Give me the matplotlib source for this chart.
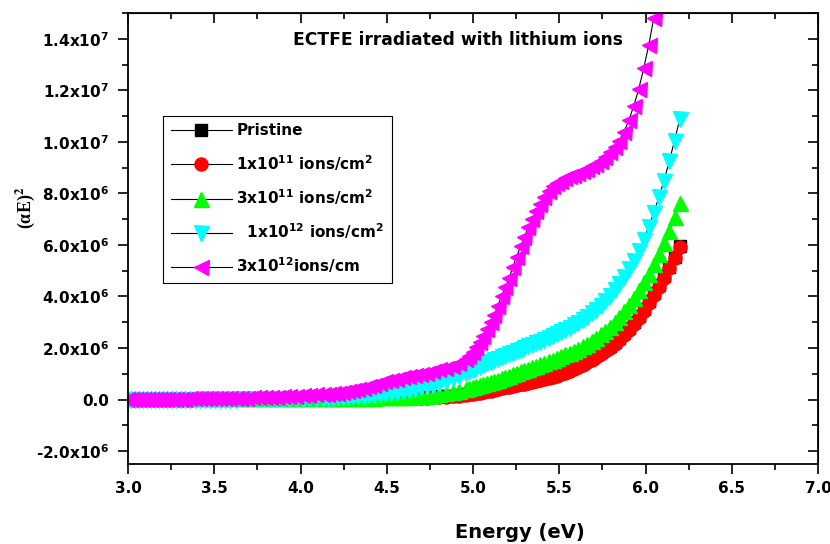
import numpy as np
import matplotlib
matplotlib.use("Agg")
import matplotlib.pyplot as plt
from matplotlib.ticker import MultipleLocator, FixedLocator, NullFormatter

plt.rcParams["font.family"] = ["DejaVu Sans"]
plt.rcParams["font.weight"] = "bold"
plt.rcParams["mathtext.fontset"] = "dejavusans"
plt.rcParams["mathtext.default"] = "bf"

# sampling grid of the spectra (nm), converted to photon energy (eV)
wavelength_nm = np.concatenate([np.arange(200, 251), np.arange(252, 301, 2), np.arange(303, 415, 3)])
energy_ev = 1239.84 / wavelength_nm

# (alpha E)^2 values, in units of 1e6, ordered from 200 nm upwards
pristine = [5.95, 5.55, 5.16, 4.79, 4.45, 4.12, 3.82, 3.53, 3.26, 3.01, 2.78, 2.58, 2.40, 2.24, 2.09,
            1.96, 1.84, 1.72, 1.62, 1.52, 1.42, 1.33, 1.25, 1.18, 1.11, 1.04, 0.98, 0.93, 0.88, 0.83,
            0.79, 0.75, 0.71, 0.68, 0.65, 0.62, 0.59, 0.56, 0.53, 0.50, 0.47, 0.44, 0.41, 0.38, 0.35,
            0.32, 0.29, 0.27, 0.25, 0.23, 0.21,
            0.18, 0.15, 0.13, 0.12, 0.11, 0.10, 0.09, 0.08, 0.08, 0.07, 0.07, 0.06, 0.06, 0.05, 0.05,
            0.05, 0.04, 0.04, 0.04, 0.04, 0.03, 0.03, 0.03, 0.03, 0.03,
            0.03, 0.03, 0.03, 0.03, 0.03, 0.03, 0.03, 0.03, 0.03, 0.03, 0.02, 0.02, 0.02, 0.02, 0.02,
            0.02, 0.02, 0.02, 0.02, 0.02, 0.02, 0.02, 0.02, 0.02, 0.01, 0.01, 0.01, 0.01, 0.01, 0.01,
            0.01, 0.01, 0.01, 0.01, 0.01, 0.01, 0.01, 0.01]
dose_1e11 = [5.93, 5.50, 5.10, 4.72, 4.38, 4.05, 3.74, 3.45, 3.18, 2.93, 2.70, 2.50, 2.32, 2.16, 2.02,
             1.89, 1.77, 1.66, 1.55, 1.45, 1.36, 1.27, 1.19, 1.12, 1.05, 0.99, 0.93, 0.88, 0.83, 0.79,
             0.75, 0.71, 0.68, 0.65, 0.62, 0.59, 0.56, 0.53, 0.50, 0.47, 0.44, 0.41, 0.38, 0.35, 0.32,
             0.29, 0.26, 0.24, 0.22, 0.20, 0.18,
             0.15, 0.13, 0.11, 0.10, 0.09, 0.08, 0.08, 0.07, 0.07, 0.06, 0.06, 0.05, 0.05, 0.05, 0.04,
             0.04, 0.04, 0.04, 0.03, 0.03, 0.03, 0.03, 0.03, 0.03, 0.03,
             0.03, 0.03, 0.03, 0.03, 0.03, 0.03, 0.03, 0.03, 0.03, 0.03, 0.02, 0.02, 0.02, 0.02, 0.02,
             0.02, 0.02, 0.02, 0.02, 0.02, 0.02, 0.02, 0.02, 0.02, 0.01, 0.01, 0.01, 0.01, 0.01, 0.01,
             0.01, 0.01, 0.01, 0.01, 0.01, 0.01, 0.01, 0.01]
dose_3e11 = [7.62, 7.08, 6.55, 6.08, 5.65, 5.25, 4.88, 4.55, 4.24, 3.95, 3.68, 3.43, 3.21, 3.01, 2.83,
             2.67, 2.53, 2.40, 2.28, 2.17, 2.07, 1.98, 1.90, 1.82, 1.75, 1.68, 1.61, 1.55, 1.49, 1.43,
             1.37, 1.31, 1.26, 1.20, 1.14, 1.09, 1.03, 0.98, 0.92, 0.87, 0.82, 0.77, 0.72, 0.68, 0.63,
             0.59, 0.55, 0.51, 0.47, 0.44, 0.40,
             0.34, 0.29, 0.24, 0.20, 0.17, 0.15, 0.13, 0.12, 0.11, 0.10, 0.10, 0.09, 0.09, 0.09, 0.08,
             0.08, 0.08, 0.08, 0.08, 0.08, 0.07, 0.07, 0.07, 0.07, 0.07,
             0.07, 0.07, 0.07, 0.07, 0.07, 0.07, 0.07, 0.07, 0.07, 0.07, 0.07, 0.07, 0.06, 0.06, 0.06,
             0.06, 0.06, 0.06, 0.06, 0.06, 0.06, 0.06, 0.06, 0.06, 0.06, 0.05, 0.05, 0.05, 0.05, 0.05,
             0.05, 0.05, 0.05, 0.05, 0.05, 0.05, 0.05, 0.05]
dose_1e12 = [10.9, 10.05, 9.25, 8.50, 7.85, 7.25, 6.70, 6.20, 5.75, 5.38, 5.05, 4.75, 4.48, 4.24, 4.02,
             3.82, 3.64, 3.48, 3.34, 3.21, 3.09, 2.98, 2.88, 2.79, 2.70, 2.61, 2.53, 2.45, 2.38, 2.31,
             2.25, 2.18, 2.12, 2.06, 2.00, 1.94, 1.88, 1.82, 1.76, 1.70, 1.64, 1.58, 1.52, 1.46, 1.40,
             1.34, 1.28, 1.22, 1.16, 1.10, 1.04,
             0.92, 0.82, 0.73, 0.65, 0.58, 0.52, 0.47, 0.42, 0.38, 0.34, 0.30, 0.27, 0.24, 0.21, 0.19,
             0.17, 0.15, 0.13, 0.12, 0.11, 0.10, 0.09, 0.08, 0.07, 0.06,
             0.05, 0.05, 0.04, 0.04, 0.03, 0.03, 0.02, 0.02, 0.02, 0.01, 0.01, 0.01, 0.01, 0.00, 0.00,
             0.00, 0.00, 0.00, -0.01, -0.01, -0.01, -0.01, -0.01, -0.01, -0.02, -0.02, -0.02, -0.02, -0.02,
             -0.02, -0.02, -0.03, -0.03, -0.03, -0.03, -0.03, -0.03, -0.03]
# 3x10^12 starts at 205 nm (higher points are off the top of the plot)
dose_3e12 = [14.8, 13.75, 12.85, 12.05, 11.4, 10.85, 10.4, 10.05, 9.80, 9.60,
             9.40, 9.25, 9.15, 9.05, 8.95, 8.85, 8.78, 8.72, 8.66, 8.58, 8.50, 8.42, 8.28, 8.10, 7.85,
             7.60, 7.30, 7.00, 6.70, 6.30, 5.95, 5.55, 5.16, 4.70, 4.35, 4.00, 3.65, 3.28, 3.00, 2.72,
             2.48, 2.25, 2.03, 1.85, 1.70, 1.58,
             1.42, 1.32, 1.24, 1.17, 1.10, 1.04, 0.99, 0.94, 0.90, 0.86, 0.81, 0.76, 0.71, 0.65, 0.58,
             0.52, 0.46, 0.41, 0.36, 0.33, 0.30, 0.27, 0.25, 0.23, 0.22,
             0.20, 0.18, 0.16, 0.14, 0.13, 0.12, 0.11, 0.10, 0.10, 0.09, 0.09, 0.08, 0.08, 0.07, 0.07,
             0.07, 0.06, 0.06, 0.06, 0.05, 0.05, 0.05, 0.05, 0.04, 0.04, 0.04, 0.04, 0.03, 0.03, 0.03,
             0.03, 0.03, 0.02, 0.02, 0.02, 0.02, 0.02, 0.02]

series_labels = ["Pristine",
                 "1x10$^{11}$ ions/cm$^{2}$",
                 "3x10$^{11}$ ions/cm$^{2}$",
                 "  1x10$^{12}$ ions/cm$^{2}$",
                 "3x10$^{12}$ions/cm"]
series_values = [pristine, dose_1e11, dose_3e11, dose_1e12, dose_3e12]
series_start = [0, 0, 0, 0, 5]

y_tick_values = [-2e6, 0, 2e6, 4e6, 6e6, 8e6, 1.0e7, 1.2e7, 1.4e7]
y_tick_labels = ["-2.0x10$^{6}$", "0.0", "2.0x10$^{6}$", "4.0x10$^{6}$", "6.0x10$^{6}$",
                 "8.0x10$^{6}$", "1.0x10$^{7}$", "1.2x10$^{7}$", "1.4x10$^{7}$"]

styles = [
    dict(marker="s", ms=8.6, mfc="black", mec="black"),
    dict(marker="o", ms=9.4, mfc="#ff0000", mec="#ff0000"),
    dict(marker="^", ms=10.8, mfc="#00ff00", mec="#00ff00"),
    dict(marker="v", ms=10.8, mfc="#00ffff", mec="#00ffff"),
    dict(marker="<", ms=10.8, mfc="#ff00ff", mec="#ff00ff"),
]

fig = plt.figure(figsize=(8.3, 5.44), dpi=100)
ax = fig.add_axes([128 / 830, 80 / 544, 690 / 830, 451 / 544])

for vals, start, label, st in zip(series_values, series_start, series_labels, styles):
    x = energy_ev[start:start + len(vals)]
    y = np.array(vals) * 1e6
    ax.plot(x, y, color="black", lw=0.8, label=label, **st)

ax.set_xlim(3.0, 7.0)
ax.set_ylim(-2.5e6, 1.5e7)

ax.xaxis.set_major_locator(MultipleLocator(0.5))
ax.xaxis.set_minor_locator(MultipleLocator(0.25))
ax.xaxis.set_major_formatter(matplotlib.ticker.FormatStrFormatter("%.1f"))
ax.set_yticks(y_tick_values)
ax.set_yticklabels(y_tick_labels)
ax.yaxis.set_minor_locator(MultipleLocator(1e6))

ax.tick_params(which="both", direction="out", width=1.2, labelsize=11)
ax.tick_params(which="major", length=7.5)
ax.tick_params(which="minor", length=4)
ax.tick_params(axis="y", pad=6)
ax.tick_params(axis="x", pad=5)
for sp in ax.spines.values():
    sp.set_linewidth(1.3)

# mirrored inward ticks on top and right
top = ax.secondary_xaxis("top")
top.xaxis.set_major_locator(MultipleLocator(0.5))
top.xaxis.set_minor_locator(MultipleLocator(0.25))
top.xaxis.set_major_formatter(NullFormatter())
top.tick_params(which="both", direction="in", width=1.2)
top.tick_params(which="major", length=7)
top.tick_params(which="minor", length=4)
right = ax.secondary_yaxis("right")
right.yaxis.set_major_locator(FixedLocator(y_tick_values))
right.yaxis.set_minor_locator(MultipleLocator(1e6))
right.yaxis.set_major_formatter(NullFormatter())
right.tick_params(which="both", direction="in", width=1.2)
right.tick_params(which="major", length=7)
right.tick_params(which="minor", length=4)

ax.text(0.4775, 0.94, "ECTFE irradiated with lithium ions", transform=ax.transAxes,
        ha="center", va="center", fontsize=12.3, fontweight="bold")

fig.text(25 / 830, 1 - 208 / 544, "(αE)$^{2}$", rotation=90, ha="center", va="center",
         fontsize=13, fontweight="bold", family="Liberation Serif", math_fontfamily="stix")
fig.text(520 / 830, 1 - 532 / 544, "Energy (eV)", ha="center", va="center",
         fontsize=14, fontweight="bold")

leg = ax.legend(loc="upper left", bbox_to_anchor=(0.0507, 0.772), borderaxespad=0,
                fontsize=11, numpoints=1, handlelength=4.0, handletextpad=0.3,
                labelspacing=0.95, borderpad=0.5, fancybox=False, framealpha=1)
leg.get_frame().set_edgecolor("black")
leg.get_frame().set_linewidth(0.8)

fig.savefig("out.png", dpi=100)
